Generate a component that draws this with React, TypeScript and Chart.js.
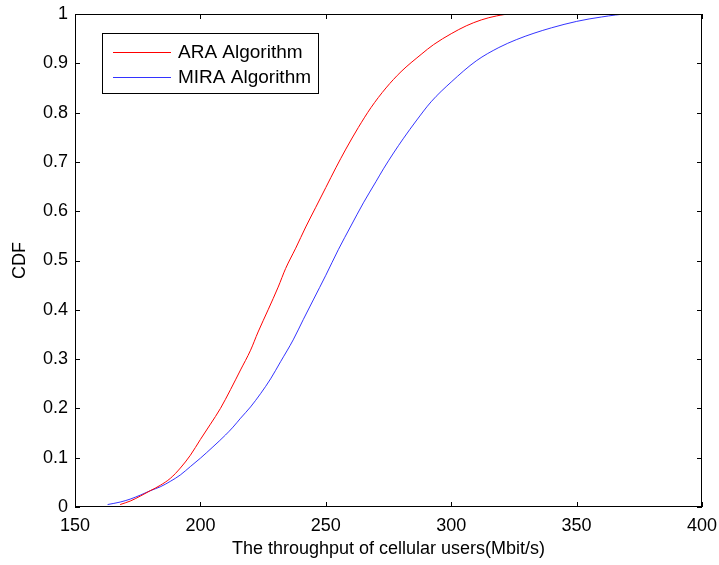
import React, { useEffect, useRef } from "react";
import { Chart, registerables } from "chart.js";

Chart.register(...registerables);

const araX = [168, 172, 176, 180, 184, 188, 192, 196, 200, 204, 208, 212, 216, 220, 223, 227, 231, 234, 238, 242, 246, 250, 254, 258, 263, 268, 274, 280, 288, 293, 300, 306, 312, 318, 324, 336];
const araY = [0.005, 0.012, 0.022, 0.033, 0.044, 0.058, 0.079, 0.105, 0.137, 0.168, 0.2, 0.238, 0.278, 0.318, 0.355, 0.4, 0.446, 0.484, 0.525, 0.568, 0.608, 0.648, 0.688, 0.726, 0.77, 0.81, 0.85, 0.883, 0.918, 0.938, 0.96, 0.976, 0.988, 0.996, 1, 1];

const miraX = [163, 168, 172, 176, 180, 184, 188, 192, 196, 200, 205, 210, 213, 216, 220, 224, 228, 232, 237, 241, 245, 250, 255, 260, 265, 270, 273, 277, 281, 286, 292, 300, 310, 319, 326, 333, 340, 350, 360, 371, 383];
const miraY = [0.005, 0.01, 0.016, 0.024, 0.033, 0.041, 0.052, 0.065, 0.082, 0.099, 0.122, 0.146, 0.162, 0.18, 0.203, 0.23, 0.26, 0.295, 0.339, 0.38, 0.42, 0.47, 0.522, 0.57, 0.617, 0.66, 0.686, 0.718, 0.748, 0.783, 0.822, 0.862, 0.905, 0.932, 0.948, 0.961, 0.972, 0.985, 0.994, 1, 1];

const xTicks = [150, 200, 250, 300, 350, 400];
const yTicks = [0, 0.1, 0.2, 0.3, 0.4, 0.5, 0.6, 0.7, 0.8, 0.9, 1];

const seriesNames = ["ARA Algorithm", "MIRA Algorithm"];
const seriesColors = ["#ff0000", "rgba(0,0,255,0.8)"];

const FONT = "Liberation Sans, Arial, sans-serif";

const framePlugin = {
  id: "frame",
  afterDraw(chart: any) {
    const { ctx, chartArea: a, scales } = chart;
    ctx.save();
    ctx.strokeStyle = "#000";
    ctx.lineWidth = 1;
    ctx.strokeRect(a.left + 0.5, a.top + 0.5, a.right - a.left - 1, a.bottom - a.top - 1);
    ctx.beginPath();
    const tl = 5;
    xTicks.forEach((v) => {
      const px = Math.round(scales.x.getPixelForValue(v)) + 0.5;
      ctx.moveTo(px, a.bottom);
      ctx.lineTo(px, a.bottom - tl);
      ctx.moveTo(px, a.top);
      ctx.lineTo(px, a.top + tl);
    });
    yTicks.forEach((v) => {
      const py = Math.round(scales.y.getPixelForValue(v)) + 0.5;
      ctx.moveTo(a.left, py);
      ctx.lineTo(a.left + tl, py);
      ctx.moveTo(a.right, py);
      ctx.lineTo(a.right - tl, py);
    });
    ctx.stroke();

    // legend
    const bx = 102, by = 33, bw = 216, bh = 60;
    ctx.fillStyle = "#fff";
    ctx.fillRect(bx, by, bw, bh);
    ctx.strokeStyle = "#000";
    ctx.strokeRect(bx + 0.5, by + 0.5, bw, bh);
    ctx.font = `19px ${FONT}`;
    ctx.textBaseline = "middle";
    seriesNames.forEach((name, i) => {
      const y = by + 19 + i * 25;
      ctx.strokeStyle = seriesColors[i];
      ctx.beginPath();
      ctx.moveTo(113, y + 0.5);
      ctx.lineTo(171, y + 0.5);
      ctx.stroke();
      ctx.fillStyle = "#000";
      ctx.fillText(name, 178, y + 1);
    });
    ctx.restore();
  },
};

export default function App() {
  const ref = useRef<HTMLCanvasElement>(null);
  useEffect(() => {
    document.body.style.margin = "0";
    const toPts = (xs: number[], ys: number[]) => xs.map((x, i) => ({ x, y: ys[i] }));
    const chart = new Chart(ref.current!, {
      type: "scatter",
      data: {
        datasets: [
          { label: seriesNames[0], data: toPts(araX, araY), showLine: true, borderColor: seriesColors[0], borderWidth: 1, pointRadius: 0, cubicInterpolationMode: "monotone" },
          { label: seriesNames[1], data: toPts(miraX, miraY), showLine: true, borderColor: seriesColors[1], borderWidth: 1, pointRadius: 0, cubicInterpolationMode: "monotone" },
        ],
      },
      options: {
        responsive: false,
        animation: false,
        layout: { padding: { left: 0, right: 17, top: 14, bottom: 0 } },
        plugins: { legend: { display: false }, tooltip: { enabled: false } },
        scales: {
          x: {
            type: "linear",
            min: 150,
            max: 400,
            afterBuildTicks: (s: any) => { s.ticks = xTicks.map((v) => ({ value: v })); },
            afterFit: (s: any) => { s.height = 58; s.paddingLeft = 0; s.paddingRight = 0; },
            grid: { display: false, drawTicks: false },
            border: { display: false },
            ticks: { color: "#000", padding: 8, font: { family: FONT, size: 18 }, maxRotation: 0 },
            title: { display: true, text: "The throughput of cellular users(Mbit/s)", color: "#000", font: { family: FONT, size: 18 }, padding: { top: 0, bottom: 5 } },
          },
          y: {
            type: "linear",
            min: 0,
            max: 1,
            afterBuildTicks: (s: any) => { s.ticks = yTicks.map((v) => ({ value: v })); },
            afterFit: (s: any) => { s.width = 75; s.paddingTop = 0; s.paddingBottom = 0; },
            grid: { display: false, drawTicks: false },
            border: { display: false },
            ticks: { color: "#000", padding: 7, font: { family: FONT, size: 18 }, callback: (v: any) => String(Math.round(Number(v) * 10) / 10) },
            title: { display: true, text: "CDF", color: "#000", font: { family: FONT, size: 18 }, padding: { top: 9, bottom: 0 } },
          },
        },
      },
      plugins: [framePlugin],
    });
    return () => chart.destroy();
  }, []);
  return (
    <div style={{ width: 719, height: 565, background: "#fff" }}>
      <canvas ref={ref} width={719} height={565} style={{ display: "block" }} />
    </div>
  );
}
